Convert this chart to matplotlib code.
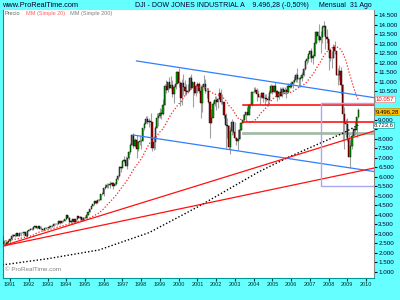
import numpy as np
import pandas as pd
import matplotlib
matplotlib.use('Agg')
import matplotlib.pyplot as plt
import matplotlib.transforms as mtransforms
from matplotlib.patches import Rectangle

plt.rcParams['font.family'] = ['Liberation Sans', 'DejaVu Sans']

# monthly DJI candles, Jan 1989 .. Aug 2009 (open = previous close)
start_year = 1989
first_open = 2169
closes = [
    2342, 2258, 2294, 2419, 2480, 2440, 2661, 2737, 2693, 2645, 2706, 2753,
    2591, 2627, 2707, 2657, 2877, 2881, 2905, 2614, 2453, 2442, 2560, 2634,
    2736, 2882, 2914, 2888, 3028, 2907, 3025, 3044, 3017, 3069, 2895, 3169,
    3224, 3267, 3236, 3359, 3397, 3319, 3394, 3257, 3272, 3226, 3305, 3301,
    3310, 3371, 3435, 3428, 3527, 3516, 3540, 3651, 3555, 3681, 3684, 3754,
    3978, 3832, 3636, 3682, 3758, 3625, 3765, 3913, 3843, 3908, 3739, 3834,
    3844, 4011, 4158, 4321, 4465, 4556, 4709, 4611, 4789, 4756, 5075, 5117,
    5395, 5486, 5588, 5569, 5643, 5655, 5529, 5616, 5882, 6029, 6522, 6448,
    6813, 6878, 6584, 7009, 7331, 7673, 8223, 7622, 7945, 7442, 7823, 7908,
    7907, 8546, 8800, 9063, 8900, 8952, 8883, 7539, 7843, 8592, 9117, 9181,
    9359, 9307, 9786, 10789, 10560, 10971, 10655, 10829, 10337, 10730, 10878, 11497,
    10941, 10128, 10922, 10734, 10522, 10448, 10522, 11215, 10651, 10971, 10415, 10787,
    10887, 10495, 9879, 10735, 10912, 10502, 10523, 9950, 8848, 9075, 9852, 10022,
    9920, 10106, 10404, 9946, 9925, 9243, 8737, 8664, 7592, 8397, 8896, 8342,
    8054, 7891, 7992, 8480, 8850, 8985, 9234, 9416, 9275, 9801, 9782, 10454,
    10488, 10584, 10358, 10226, 10188, 10435, 10140, 10174, 10080, 10027, 10428, 10783,
    10490, 10766, 10504, 10193, 10467, 10275, 10641, 10482, 10569, 10440, 10806, 10718,
    10865, 10993, 11109, 11367, 11168, 11150, 11186, 11381, 11679, 12081, 12222, 12463,
    12622, 12269, 12354, 13063, 13628, 13409, 13212, 13358, 13896, 13930, 13372, 13265,
    12650, 12266, 12263, 12820, 12638, 11350, 11378, 11544, 10851, 9325, 8829, 8776,
    8001, 7063, 7609, 8168, 8500, 8447, 9172, 9496.28,
]
highs = [
    2350, 2347, 2306, 2420, 2503, 2531, 2661, 2752, 2771, 2796, 2710, 2761,
    2811, 2656, 2755, 2766, 2888, 2935, 3000, 2900, 2680, 2525, 2572, 2660,
    2742, 2980, 2996, 3041, 3060, 3051, 3047, 3062, 3052, 3084, 3065, 3173,
    3272, 3290, 3290, 3386, 3414, 3413, 3420, 3395, 3394, 3276, 3313, 3340,
    3326, 3442, 3478, 3479, 3555, 3533, 3567, 3652, 3649, 3687, 3710, 3794,
    3978, 3976, 3896, 3709, 3777, 3798, 3770, 3917, 3954, 3936, 3876, 3877,
    3932, 4015, 4172, 4329, 4470, 4589, 4727, 4680, 4802, 4828, 5106, 5217,
    5395, 5630, 5690, 5690, 5779, 5719, 5729, 5739, 5904, 6094, 6547, 6561,
    6883, 7080, 7086, 7009, 7384, 7796, 8259, 8299, 8041, 8179, 7887, 8171,
    7985, 8550, 8900, 9211, 9212, 9070, 9367, 8883, 8161, 8659, 9380, 9374,
    9643, 9556, 10085, 10878, 11107, 10979, 11252, 11326, 11079, 10813, 11090, 11569,
    11750, 11041, 11136, 11425, 11082, 10863, 10900, 11310, 11401, 10977, 11008, 10899,
    11000, 10983, 10858, 10880, 11350, 11175, 10693, 10651, 9984, 9554, 9983, 10230,
    10259, 10145, 10673, 10644, 10353, 9923, 9379, 9076, 8734, 8607, 9043, 8926,
    8869, 8109, 8522, 8558, 8897, 9323, 9284, 9428, 9686, 9837, 9880, 10458,
    10754, 10753, 10700, 10571, 10317, 10480, 10455, 10344, 10341, 10239, 10572, 10868,
    10854, 10842, 10984, 10570, 10542, 10717, 10720, 10719, 10707, 10640, 10932, 10985,
    11048, 11100, 11319, 11441, 11710, 11265, 11304, 11527, 11727, 12167, 12361, 12511,
    12652, 12795, 12481, 13289, 13692, 13693, 14022, 13657, 14000, 14198, 13932, 13761,
    13279, 12768, 12622, 13010, 13136, 12638, 11747, 11867, 11790, 10882, 9654, 9026,
    9088, 8281, 7924, 8377, 8588, 8878, 9172, 9630,
]
lows = [
    2144, 2240, 2245, 2285, 2390, 2430, 2439, 2636, 2640, 2540, 2582, 2655,
    2543, 2546, 2617, 2602, 2645, 2821, 2862, 2485, 2400, 2365, 2423, 2520,
    2470, 2721, 2838, 2850, 2867, 2899, 2905, 2862, 2962, 2942, 2836, 2863,
    3141, 3208, 3200, 3181, 3320, 3258, 3285, 3228, 3246, 3136, 3193, 3255,
    3242, 3308, 3355, 3370, 3414, 3470, 3484, 3518, 3537, 3545, 3600, 3670,
    3718, 3800, 3594, 3575, 3629, 3617, 3609, 3734, 3817, 3801, 3674, 3675,
    3807, 3832, 3980, 4153, 4299, 4440, 4527, 4574, 4603, 4704, 4755, 5067,
    5000, 5374, 5427, 5413, 5418, 5582, 5346, 5569, 5550, 5847, 6006, 6242,
    6443, 6784, 6560, 6391, 6934, 7180, 7655, 7541, 7566, 6971, 7340, 7660,
    7489, 7885, 8467, 8808, 8800, 8627, 8798, 7379, 7400, 7467, 8551, 8695,
    9120, 9063, 9268, 9800, 10398, 10466, 10645, 10646, 10213, 9888, 10600, 10998,
    10738, 9731, 9796, 10305, 10300, 10300, 10400, 10600, 10600, 9655, 10320, 10261,
    10400, 10394, 9106, 9389, 10620, 10412, 10175, 9886, 8062, 8836, 9263, 9704,
    9529, 9625, 10120, 9843, 9809, 9120, 7532, 8043, 7461, 7197, 8224, 8232,
    7945, 7673, 7416, 7992, 8454, 8837, 8985, 9016, 9228, 9275, 9625, 9745,
    10389, 10460, 10000, 10200, 9852, 10175, 9913, 9785, 9990, 9708, 10009, 10400,
    10368, 10470, 10403, 10000, 10090, 10250, 10214, 10371, 10364, 10156, 10405, 10696,
    10667, 10658, 10934, 11008, 10999, 10706, 10739, 11052, 11308, 11599, 11939, 12041,
    12271, 12038, 11939, 12354, 12992, 13210, 13106, 12518, 13065, 13465, 12724, 13064,
    11635, 12071, 11731, 12266, 12439, 11346, 10827, 11103, 10365, 7882, 7449, 8118,
    7909, 7063, 6470, 7490, 8163, 8221, 8087, 9100,
]

# 200-month average
ma200_dates = ['1990-08', '1993-02', '1995-10', '1998-06', '2001-02',
               '2002-09', '2004-04', '2005-12', '2008-10', '2009-08']
ma200_vals = [1360, 1700, 2150, 3060, 4450, 5350, 6250, 7060, 8290, 8723]

# drawn trend lines (date, price)
blue_top = (['1997-10', '2010-06'], [12100, 10170])
blue_bottom = (['1997-08', '2010-06'], [8200, 6280])
red_steep = (['1990-07', '2010-06'], [2330, 8410])
red_flat = (['1990-07', '2010-06'], [2330, 6460])
h_red = [9780, 8870]
h_green = 8330
h_start = '2003-06'
box_dates = ['2007-08', '2010-08']
box_prices = [5540, 9870]

years = list(range(1991, 2011))
hidden_ticks = [8500, 9500, 10000]  # covered by the value tags


def pos(d):
    y, m = d.split('-')
    return (int(y) - start_year) * 12 + int(m) - 1


closes = np.array(closes, dtype=float)
highs = np.array(highs, dtype=float)
lows = np.array(lows, dtype=float)
opens = np.concatenate([[first_open], closes[:-1]])
x = np.arange(len(closes))
ma20 = pd.Series(closes).rolling(20).mean()

fig = plt.figure(figsize=(4, 3), dpi=100, facecolor='#66ffff')
ax = fig.add_axes([0.0075, 0.075, 0.9275, 0.8933])
ax.set_facecolor('white')

# candles
up = closes >= opens
ax.vlines(x, lows, highs, color='#a0a0a0', lw=0.8, zorder=2)
ax.bar(x[up], closes[up] - opens[up], bottom=opens[up], width=0.8,
       color='#00a800', edgecolor='black', lw=0.3, zorder=3)
ax.bar(x[~up], closes[~up] - opens[~up], bottom=opens[~up], width=0.8,
       color='#b00000', edgecolor='black', lw=0.3, zorder=3)

# averages
ax.plot(x, ma20, color='#ff2020', lw=0.9, ls=(0, (1, 1.5)), zorder=4)
ax.plot([pos(d) for d in ma200_dates], ma200_vals, color='black', lw=1.0,
        ls=(0, (1, 1.5)), zorder=4)

# trend lines
for line, col in [(blue_top, '#2f7fff'), (blue_bottom, '#2f7fff'),
                  (red_steep, '#ff1010'), (red_flat, '#ff1010')]:
    ax.plot([pos(d) for d in line[0]], line[1], color=col, lw=0.9, zorder=5)
for p in h_red:
    ax.plot([pos(h_start), 300], [p, p], color='#ff0000', lw=1.1, zorder=5)
ax.plot([pos(h_start), 300], [h_green, h_green], color='#a3bca3', lw=2, zorder=1)
ax.add_patch(Rectangle((pos(box_dates[0]), box_prices[0]),
                       pos(box_dates[1]) - pos(box_dates[0]),
                       box_prices[1] - box_prices[0],
                       fill=False, edgecolor='#a8a8f0', lw=1, zorder=5))

ax.set_xlim(19.5, 257.1)
ax.set_ylim(700, 14807)

# axes styling
yt = np.arange(1000, 15000, 500)
ax.yaxis.tick_right()
ax.set_yticks(yt)
ax.set_yticklabels(['' if v in hidden_ticks else f'{v:,}'.replace(',', '.')
                    for v in yt])
ax.tick_params(axis='y', labelsize=4.5, length=2, pad=1, colors='#000033')
xt = [pos(f'{y}-01') for y in years]
ax.set_xticks(xt)
ax.set_xticklabels([str(y) for y in years])
ax.tick_params(axis='x', labelsize=4, length=2, pad=1.5, colors='#003333')
for s in ['left', 'bottom']:
    ax.spines[s].set_color('#009999')
ax.spines['right'].set_color('#888888')
ax.spines['top'].set_visible(False)

# value tags on the price axis
tr = mtransforms.blended_transform_factory(ax.transAxes, ax.transData)
ax.text(1.005, ma20.iloc[-1] + 30, f'{ma20.iloc[-1]:,.0f}'.replace(',', '.'),
        transform=tr, fontsize=4.3, color='#ff0000', va='center', zorder=10,
        bbox=dict(boxstyle='square,pad=0.12', fc='white', ec='#ff8080', lw=0.5))
ax.text(1.005, closes[-1] - 60, '9.496,28', transform=tr, fontsize=4.3,
        color='black', va='center', zorder=10,
        bbox=dict(boxstyle='square,pad=0.12', fc='#ffc000', ec='#cc8800', lw=0.5))
ax.text(0.998, ma200_vals[-1], '8.723,6', transform=tr, fontsize=4.3,
        color='#222222', va='center', zorder=10,
        bbox=dict(boxstyle='square,pad=0.12', fc='white', ec='#00a0a0', lw=0.5))

# legend and watermark
ax.text(0.005, 0.986, 'Precio', transform=ax.transAxes, fontsize=4,
        color='#606060', va='center')
ax.text(0.062, 0.986, 'MM (Simple 20)', transform=ax.transAxes, fontsize=4,
        color='#ff6060', va='center')
ax.text(0.181, 0.986, 'MM (Simple 200)', transform=ax.transAxes, fontsize=4,
        color='#808080', va='center')
ax.text(0.005, 0.03, '© ProRealTime.com', transform=ax.transAxes, fontsize=4.5,
        color='#808080', va='center')

# header
fig.text(0.005, 0.983, 'www.ProRealTime.com', fontsize=5.3, color='#000033',
         va='center')
fig.text(0.337, 0.983, 'DJI - DOW JONES INDUSTRIAL A    9.496,28 (-0,50%)     Mensual  31 Ago',
         fontsize=5, color='#000033', va='center')

fig.savefig('out.png', dpi=100, facecolor=fig.get_facecolor())
